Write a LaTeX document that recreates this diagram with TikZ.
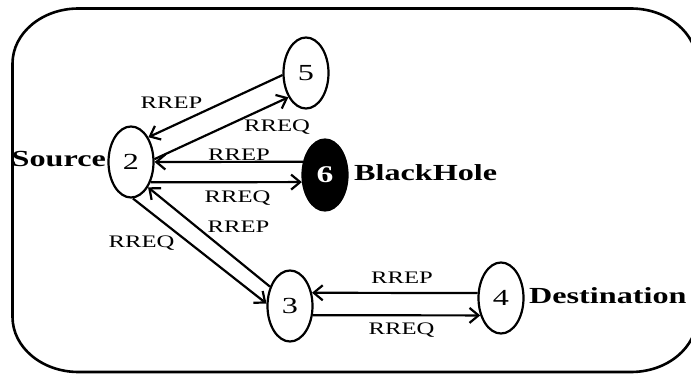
\documentclass[tikz,border=0pt]{standalone}
\usepackage{fontspec}
\setmainfont[FakeStretch=1.4]{Liberation Serif}
\usetikzlibrary{arrows.meta, shapes.geometric}

\begin{document}
\begin{tikzpicture}[
    x=0.5pt, y=-0.5pt,
    >={Straight Barb[length=4.5pt, width=7.5pt]},
    line width=1.1pt,
    host/.style={
        draw,
        ellipse,
        minimum width=22.5pt,
        minimum height=35.5pt,
        inner sep=0pt,
        font=\fontsize{11.5}{13}\selectfont
    },
    hole/.style={
        host,
        fill=black,
        text=white,
        font=\fontsize{12}{14}\selectfont\bfseries
    },
    msg/.style={
        font=\fontsize{8.8}{10}\selectfont,
        text height=5.8pt,
        text depth=0pt,
        inner sep=0pt
    },
    role/.style={
        font=\fontsize{11.5}{14}\selectfont\bfseries,
        anchor=west,
        text height=7.8pt,
        text depth=0pt,
        inner sep=0pt
    }
]
    \clip (0,0) rectangle (691,374);

    % network area
    \draw[line width=1.3pt] (12.5,63.5)
        arc[start angle=180, end angle=270, x radius=66, y radius=55] -- (631,8.5)
        arc[start angle=270, end angle=360, x radius=66, y radius=55] -- (697,317)
        arc[start angle=0, end angle=90, x radius=66, y radius=55] -- (78.5,372)
        arc[start angle=90, end angle=180, x radius=66, y radius=55] -- cycle;

    % hosts
    \node[host] (n2) at (131,162) {2};
    \node[host] (n5) at (306,73) {5};
    \node[hole] (n6) at (325,175) {6};
    \node[host] (n3) at (290,306) {3};
    \node[host] (n4) at (501,298) {4};

    \node[role, anchor=east] (srcname) at (107,159) {Source};
    \node[role] (holename) at (353,172.5) {BlackHole};
    \node[role] (dstname) at (528,296) {Destination};

    % route request / reply
    \draw[->] (n5.185) -- (n2.55);
    \draw[->] (n2.7) -- (n5.234);
    \draw[->] (n6.149) -- (n2.0);
    \draw[->] (n2.-46) -- (n6.197);
    \draw[->] (n2.-87) -- (n3.174);
    \draw[->] (n3.136) -- (n2.-56);
    \draw[->] (n4.168) -- (n3.31);
    \draw[->] (n3.-22) -- (n4.220);

    \node[msg] (m52) at (171.5,102.5) {RREP};
    \node[msg] (m25) at (277,125.5) {RREQ};
    \node[msg] (m62) at (239,154.5) {RREP};
    \node[msg] (m26) at (237.5,197) {RREQ};
    \node[msg] (m32) at (238.5,227) {RREP};
    \node[msg] (m23) at (141.5,242) {RREQ};
    \node[msg] (m43) at (402,278) {RREP};
    \node[msg] (m34) at (401.5,329) {RREQ};
\end{tikzpicture}
\end{document}
